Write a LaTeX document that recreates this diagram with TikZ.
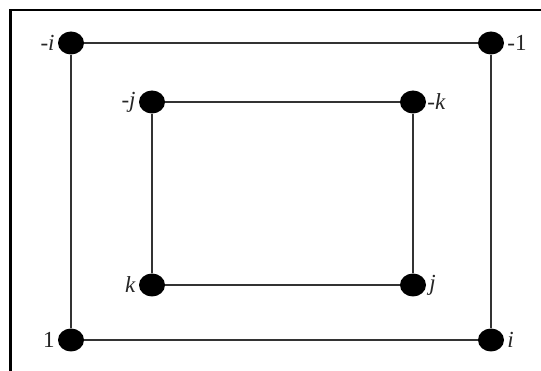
\documentclass[tikz,border=0pt]{standalone}
\usepackage{fontspec}
\setmainfont{Liberation Serif}
\usetikzlibrary{shapes.geometric}
\begin{document}
\begin{tikzpicture}[x=1pt,y=-1pt,
  dot/.style={ellipse,fill=black,minimum width=26pt,minimum height=23pt,inner sep=0pt},
  edge/.style={draw=black!80,line width=1.8pt},
  lbl/.style={font=\fontsize{23}{27}\selectfont,text=black!85,inner sep=3pt}]
\useasboundingbox (0,0) rectangle (541,371);
\fill[white] (0,0) rectangle (541,371);
\draw[line width=2.6pt] (10.5,371) -- (10.5,10) -- (541,10);
% nodes
\node[dot] (mi) at (71,43) {};
\node[dot] (m1) at (491,43) {};
\node[dot] (mj) at (152,102) {};
\node[dot] (mk) at (413,102) {};
\node[dot] (k) at (152,285) {};
\node[dot] (j) at (413,285) {};
\node[dot] (one) at (71,340) {};
\node[dot] (i) at (491,340) {};
% edges
\draw[edge] (mi) -- (m1);
\draw[edge] (mi) -- (one);
\draw[edge] (one) -- (i);
\draw[edge] (m1) -- (i);
\draw[edge] (mj) -- (mk);
\draw[edge] (mj) -- (k);
\draw[edge] (k) -- (j);
\draw[edge] (mk) -- (j);
% labels
\node[lbl,anchor=east] at (mi.west) {-\textit{i}};
\node[lbl,anchor=west] at (m1.east) {-1};
\node[lbl,anchor=east] at (mj.west) {-\textit{j}};
\node[lbl,anchor=west,inner sep=1pt] at (mk.east) {-\textit{k}};
\node[lbl,anchor=east] at (k.west) {\textit{k}};
\node[lbl,anchor=west] at (j.east) {\textit{j}};
\node[lbl,anchor=east] at (one.west) {1};
\node[lbl,anchor=west] at (i.east) {\textit{i}};
\end{tikzpicture}
\end{document}
